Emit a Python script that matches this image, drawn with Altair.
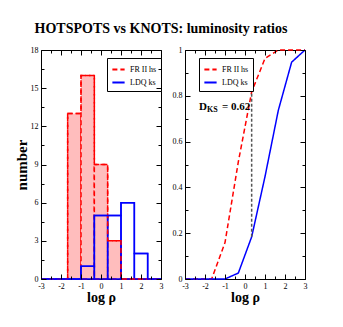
import altair as alt
import pandas as pd

# ---------------- data ----------------
series_names = ["FR II hs", "LDQ ks"]
bin_lo = [-3.0, -2.333, -1.667, -1.0, -0.333, 0.333, 1.0, 1.667, 2.333]
bin_hi = [-2.333, -1.667, -1.0, -0.333, 0.333, 1.0, 1.667, 2.333, 3.0]
fr2_counts = [0, 0, 13, 16, 9, 3, 0, 0, 0]
ldq_counts = [0, 0, 0, 1, 5, 5, 6, 2, 0]

cdf_fr2_x = [-3.0, -1.667, -1.0, -0.333, 0.333, 1.0, 1.667, 3.0]
cdf_fr2_y = [0.0, 0.0, 0.159, 0.512, 0.817, 0.963, 1.0, 1.0]
cdf_ldq_x = [-3.0, -1.0, -0.333, 0.333, 1.0, 1.667, 2.333, 3.0]
cdf_ldq_y = [0.0, 0.0, 0.026, 0.184, 0.447, 0.737, 0.947, 1.0]

dks_x = [0.333]
dks_lo = [0.184]
dks_hi = [0.817]
dks_label_x = [-2.3]
dks_label_y = [0.75]

x_major = [-3, -2, -1, 0, 1, 2, 3]
x_minor = [-2.5, -1.5, -0.5, 0.5, 1.5, 2.5]
yl_major = [0, 3, 6, 9, 12, 15, 18]
yl_minor = [1.5, 4.5, 7.5, 10.5, 13.5, 16.5]
yr_major = [0, 0.2, 0.4, 0.6, 0.8, 1]
yr_minor = [0.1, 0.3, 0.5, 0.7, 0.9]

# ---------------- tables ----------------
hist_fr2 = pd.DataFrame({"lo": bin_lo, "hi": bin_hi, "n": fr2_counts})
hist_ldq = pd.DataFrame({"lo": bin_lo, "hi": bin_hi, "n": ldq_counts})
steps = pd.concat([
    pd.DataFrame({"x": bin_lo + [bin_hi[-1]], "n": fr2_counts + [fr2_counts[-1]], "s": series_names[0]}),
    pd.DataFrame({"x": bin_lo + [bin_hi[-1]], "n": ldq_counts + [ldq_counts[-1]], "s": series_names[1]}),
])
cdf = pd.concat([
    pd.DataFrame({"x": cdf_fr2_x, "y": cdf_fr2_y, "s": series_names[0], "o": range(len(cdf_fr2_x))}),
    pd.DataFrame({"x": cdf_ldq_x, "y": cdf_ldq_y, "s": series_names[1], "o": range(len(cdf_ldq_x))}),
])
dks = pd.DataFrame({"x": dks_x, "lo": dks_lo, "hi": dks_hi})
dks_lab = pd.DataFrame({"x": dks_label_x, "y": dks_label_y})

FONT = "Liberation Serif"
W, H = 120, 229
RED, BLUE = "#ff0000", "#0000ff"
DASH = [5, 3]

stroke_scale = alt.Scale(domain=series_names, range=[RED, BLUE])
dash_scale = alt.Scale(domain=series_names, range=[DASH, [1, 0]])


def legend(lx, ly):
    return alt.Legend(
        title=None, orient="none", legendX=lx, legendY=ly,
        symbolType="stroke", symbolSize=150, symbolStrokeWidth=2,
        labelFont=FONT, labelFontSize=8, labelColor="black",
        strokeColor="black", fillColor="white", padding=4, rowPadding=1,
        labelOffset=4,
    )


def major_x_axis():
    return alt.Axis(
        values=x_major, labelExpr="toString(datum.value)",
        labelFlush=False, labelOverlap=False, labelFont=FONT, labelFontSize=8,
        labelPadding=3, ticks=False, domain=False,
        grid=True, gridColor="black", gridOpacity=1, gridWidth=1,
        gridDash=[5, H - 10, 5, 1000], zindex=1,
        title="log ρ", titleFont=FONT, titleFontSize=14, titleFontWeight="bold", titlePadding=0,
    )


def minor_axis(vals, length, orient):
    return alt.Axis(
        values=vals, labels=False, ticks=False, domain=False, title=None, orient=orient,
        grid=True, gridColor="black", gridOpacity=1, gridWidth=1,
        gridDash=[3, length - 6, 3, 1000], zindex=1,
    )


def major_y_axis(vals, title):
    kw = dict(
        values=vals, labelExpr="toString(datum.value)",
        labelFlush=False, labelOverlap=False, labelFont=FONT, labelFontSize=8,
        labelPadding=3, ticks=False, domain=False,
        grid=True, gridColor="black", gridOpacity=1, gridWidth=1,
        gridDash=[5, W - 10, 5, 1000], zindex=1,
    )
    if title:
        kw.update(title=title, titleFont=FONT, titleFontSize=15, titleFontWeight="bold", titlePadding=1)
    else:
        kw.update(title=None)
    return alt.Axis(**kw)


xsc = alt.Scale(domain=[-3, 3], nice=False, zero=False)
ysc_l = alt.Scale(domain=[0, 18], nice=False)
ysc_r = alt.Scale(domain=[0, 1], nice=False)

# ---------------- left panel ----------------
red_bars = alt.Chart(hist_fr2).mark_rect(fill="#ffbdbd", stroke=RED, strokeDash=DASH, strokeWidth=1.5).encode(
    x=alt.X("lo:Q", scale=xsc, axis=major_x_axis()),
    x2="hi:Q",
    y=alt.Y("n:Q", scale=ysc_l, axis=major_y_axis(yl_major, "number")),
    y2=alt.datum(0),
)
blue_bars = alt.Chart(hist_ldq).mark_rect(fillOpacity=0, stroke=BLUE, strokeWidth=1.5).encode(
    x=alt.X("lo:Q", scale=xsc, axis=None),
    x2="hi:Q",
    y=alt.Y("n:Q", scale=ysc_l, axis=None),
    y2=alt.datum(0),
)
step_lines = alt.Chart(steps).mark_line(strokeWidth=1.5, interpolate="step-after").encode(
    x=alt.X("x:Q", scale=xsc, axis=minor_axis(x_minor, H, "top")),
    y=alt.Y("n:Q", scale=ysc_l, axis=minor_axis(yl_minor, W, "right")),
    stroke=alt.Stroke("s:N", scale=stroke_scale, legend=legend(66, 8)),
    strokeDash=alt.StrokeDash("s:N", scale=dash_scale, legend=legend(66, 8)),
)
left = alt.layer(red_bars, blue_bars, step_lines).resolve_axis(x="independent", y="independent").properties(width=W, height=H)

# ---------------- right panel ----------------
lines = alt.Chart(cdf).mark_line(strokeWidth=1.5).encode(
    x=alt.X("x:Q", scale=xsc, axis=major_x_axis()),
    y=alt.Y("y:Q", scale=ysc_r, axis=major_y_axis(yr_major, None)),
    stroke=alt.Stroke("s:N", scale=stroke_scale, legend=legend(14, 8)),
    strokeDash=alt.StrokeDash("s:N", scale=dash_scale, legend=legend(14, 8)),
    order="o:Q",
)
dks_rule = alt.Chart(dks).mark_rule(color="#555555", strokeDash=[3, 2], strokeWidth=1.5).encode(
    x=alt.X("x:Q", scale=xsc, axis=minor_axis(x_minor, H, "top")),
    y=alt.Y("lo:Q", scale=ysc_r, axis=minor_axis(yr_minor, W, "right")),
    y2="hi:Q",
)
t_d = alt.Chart(dks_lab).mark_text(font=FONT, fontSize=11, fontWeight="bold", align="left",
                                   baseline="middle", color="black").encode(
    x=alt.X("x:Q", scale=xsc, axis=None), y=alt.Y("y:Q", scale=ysc_r, axis=None), text=alt.value("D"))
t_ks = alt.Chart(dks_lab).mark_text(font=FONT, fontSize=8, fontWeight="bold", align="left",
                                    baseline="middle", color="black", dx=8, dy=3).encode(
    x=alt.X("x:Q", scale=xsc, axis=None), y=alt.Y("y:Q", scale=ysc_r, axis=None), text=alt.value("KS"))
t_val = alt.Chart(dks_lab).mark_text(font=FONT, fontSize=11, fontWeight="bold", align="left",
                                     baseline="middle", color="black", dx=23).encode(
    x=alt.X("x:Q", scale=xsc, axis=None), y=alt.Y("y:Q", scale=ysc_r, axis=None), text=alt.value("= 0.62"))
right = alt.layer(lines, dks_rule, t_d, t_ks, t_val).resolve_axis(x="independent", y="independent").properties(width=W, height=H)

chart = alt.hconcat(left, right, spacing=6).resolve_scale(
    stroke="independent", strokeDash="independent"
).resolve_legend(stroke="independent", strokeDash="independent").properties(
    title=alt.TitleParams("HOTSPOTS vs KNOTS: luminosity ratios", font=FONT, fontSize=14,
                          fontWeight="bold", anchor="middle", offset=10, color="black"),
    padding={"left": 5, "top": 13, "right": 5, "bottom": 5},
).configure_view(stroke="black", strokeWidth=1).configure_axis(
    labelColor="black", titleColor="black"
)

chart.save("out.html", embed_options={"renderer": "svg", "actions": False})
